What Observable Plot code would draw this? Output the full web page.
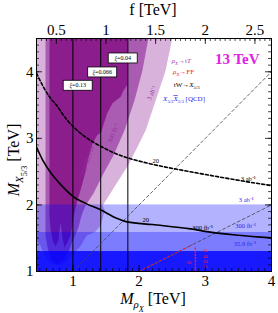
<!DOCTYPE html>
<html><head><meta charset="utf-8">
<script src="https://cdn.jsdelivr.net/npm/d3@7"></script>
<script src="https://cdn.jsdelivr.net/npm/@observablehq/plot@0.6"></script>
<style>html,body{margin:0;padding:0;background:#fff}svg{display:block}</style>
</head><body><div id="c"></div>
<script>
// ---------- data ----------
const xDomain = [0.45, 4];
const yDomain = [1, 4.5];
const xTicks = [1, 2, 3, 4];
const yTicks = [1, 2, 3, 4];
const fTicks = [0.5, 1, 1.5, 2, 2.5];
const fScale = 1.5; // M_rho = 1.5 f (top axis)

// exclusion regions (M_rho, M_X5/3)
const lightRegion = [[0.40,4.6],[2.53,4.6],[2.50,4.5],[2.40,4.02],[2.25,3.57],[2.10,3.12],[1.95,2.82],[1.83,2.59],[1.64,2.29],[1.45,1.99],[1.48,1.92],[1.42,1.69],[1.33,1.59],[1.21,1.54],[1.12,1.39],[0.99,1.24],[0.90,1.14],[0.78,1.09],[0.66,1.12],[0.57,1.24],[0.51,1.39],[0.45,1.47],[0.40,1.50]];
const mediumRegion = [[0.586,4.6],[2.16,4.6],[2.14,4.5],[2.05,4.02],[1.93,3.57],[1.78,3.12],[1.61,2.74],[1.46,2.47],[1.31,2.17],[1.19,1.99],[1.13,1.84],[1.08,1.65],[1.00,1.47],[0.93,1.29],[0.85,1.16],[0.75,1.11],[0.66,1.20],[0.62,1.35],[0.586,1.54]];
const darkRegion = [[0.646,4.6],[1.82,4.6],[1.82,3.80],[1.764,3.72],[1.72,3.62],[1.60,3.53],[1.52,3.38],[1.46,3.20],[1.43,3.09],[1.37,3.05],[1.30,2.93],[1.235,2.71],[1.175,2.44],[1.115,2.22],[1.07,2.07],[1.024,1.89],[0.994,1.69],[0.964,1.54],[0.918,1.44],[0.873,1.36],[0.843,1.50],[0.813,1.74],[0.782,1.47],[0.737,1.38],[0.692,1.47],[0.661,1.65],[0.646,1.84]];

// QCD pair-production bands: upper edge and opacity layer
const qcdBandTop = [2.0, 1.586, 1.30];
const qcdBandOpacity = [0.3, 0.3, 0.8];

// compositeness xi lines
const xiValues = ["0.13", "0.066", "0.04"];
const xiMass = [1.0, 1.42, 1.83];
const xiLabelX = [1.08, 1.45, 1.76];
const xiLabelY = [3.79, 3.99, 4.20];

// kinematic lines
const lineMeqM = [[1, 1], [4, 4]];
const lineHalf = [[2, 1], [4, 2]];
const redDashed = [[2.0, 1.0], [2.80, 1.40]];
const redDotted = [[2.85, 1.0], [2.85, 1.38]];

// contour curves
const dashedCurve = [[0.45,3.98],[0.55,3.78],[0.65,3.62],[0.75,3.50],[0.90,3.29],[1.10,3.09],[1.28,2.96],[1.46,2.86],[1.65,2.77],[1.85,2.70],[2.16,2.62],[2.60,2.53],[2.93,2.47],[3.50,2.37],[4.0,2.29]];
const solidCurve = [[0.45,2.87],[0.55,2.66],[0.66,2.49],[0.83,2.29],[1.0,2.13],[1.2,2.02],[1.41,1.93],[1.66,1.80],[1.82,1.745],[2.2,1.705],[2.78,1.64],[3.05,1.595],[3.5,1.545],[4.0,1.505]];

// text annotations
const blackLabels = [["20",2.25,2.655],["3 ab⁻¹",3.65,2.385],["20",2.10,1.775],["300 fb⁻¹",2.96,1.655]];
const blueLabels = [["3 ab⁻¹",3.62,2.08],["300 fb⁻¹",3.61,1.69],["35.9 fb⁻¹",3.60,1.42]];
const purpleLabels = [["3 ab⁻¹",2.19,3.68,-68],["300 fb⁻¹",1.61,3.08,-68],["72.3+36.3 fb⁻¹",1.22,2.67,-71]];
const redLabels = [["20",2.75,1.135],["30",3.00,1.31],["40",3.00,1.23],["50",3.00,1.15],["75",3.00,1.07]];

// ---------- chart ----------
const serif = "'Liberation Serif','Times New Roman',serif";
const xMinor = d3.range(0.5, 4.001, 0.1);
const yMinor = d3.range(1.1, 4.5, 0.1);
const fMinor = d3.range(0.35, 2.67, 0.05).map(f => f * fScale).filter(m => m > 0.45 && m < 4);
const fMajor = fTicks.map(f => f * fScale);

const poly = (data, fill) => Plot.line(data, {x: d => d[0], y: d => d[1], fill, stroke: "none", clip: true});
const seg = (data, o) => Plot.line(data, {x: d => d[0], y: d => d[1], clip: true, ...o});

const chart = Plot.plot({
  width: 278, height: 313,
  marginLeft: 36, marginRight: 7, marginTop: 38, marginBottom: 42,
  x: {domain: xDomain},
  y: {domain: yDomain},
  style: {fontFamily: serif, fontSize: "15px", color: "black", background: "white"},
  marks: [
    poly(lightRegion, "#d8b2db"),
    poly(mediumRegion, "#a95cb1"),
    poly(darkRegion, "#8c1d8d"),
    Plot.rect(qcdBandTop.map((t, i) => ({t, o: qcdBandOpacity[i]})), {y1: d => 1, y2: d => d.t, fill: "#0000ff", fillOpacity: d => d.o}),
    Plot.ruleX(xiMass, {stroke: "black", strokeWidth: 1}),
    seg(lineMeqM, {stroke: "#444", strokeWidth: 0.8, strokeDasharray: "3,2.5"}),
    seg(lineHalf, {stroke: "#444", strokeWidth: 0.8, strokeDasharray: "3,2.5"}),
    seg(redDashed, {stroke: "#ff1a1a", strokeWidth: 1, strokeDasharray: "2.5,2"}),
    seg(redDotted, {stroke: "#ff1a1a", strokeWidth: 1.4, strokeDasharray: "1.2,2"}),
    seg(solidCurve, {stroke: "black", strokeWidth: 1.6, curve: "monotone-x"}),
    seg(dashedCurve, {stroke: "black", strokeWidth: 1.6, strokeDasharray: "3,2.2", curve: "monotone-x"}),
    // inward ticks
    Plot.ruleX(xMinor, {x: d => d, y1: d => 1, y2: d => 1.045, stroke: "black", strokeWidth: 0.7}),
    Plot.ruleX(xTicks, {x: d => d, y1: d => 1, y2: d => 1.09, stroke: "black", strokeWidth: 0.8}),
    Plot.ruleX(fMinor, {x: d => d, y1: d => 4.5, y2: d => 4.455, stroke: "black", strokeWidth: 0.7}),
    Plot.ruleX(fMajor, {x: d => d, y1: d => 4.5, y2: d => 4.41, stroke: "black", strokeWidth: 0.8}),
    Plot.ruleY(yMinor, {y: d => d, x1: d => 0.45, x2: d => 0.495, stroke: "black", strokeWidth: 0.7}),
    Plot.ruleY(yTicks, {y: d => d, x1: d => 0.45, x2: d => 0.54, stroke: "black", strokeWidth: 0.8}),
    Plot.ruleY(yMinor, {y: d => d, x1: d => 4, x2: d => 3.955, stroke: "black", strokeWidth: 0.7}),
    Plot.ruleY(yTicks, {y: d => d, x1: d => 4, x2: d => 3.91, stroke: "black", strokeWidth: 0.8}),
    Plot.frame({stroke: "black", strokeWidth: 1}),
    Plot.axisX(xTicks, {anchor: "bottom", tickSize: 0, tickPadding: 4, fontSize: 15, label: null, tickFormat: d => String(d)}),
    Plot.axisX(fMajor, {anchor: "top", tickSize: 0, tickPadding: 4, fontSize: 15, label: null, tickFormat: d => String(+(d / fScale).toFixed(2))}),
    Plot.axisY(yTicks, {anchor: "left", tickSize: 0, tickPadding: 3, fontSize: 15, label: null, tickFormat: d => String(d)}),
    Plot.text(blackLabels, {x: d => d[1], y: d => d[2], text: d => d[0], fontSize: 6.5, fill: "black"}),
    Plot.text(blueLabels, {x: d => d[1], y: d => d[2], text: d => d[0], fontSize: 6.5, fill: "#2a2ae8"}),
    Plot.text(purpleLabels, {x: d => d[1], y: d => d[2], text: d => d[0], rotate: d => d[3], fontSize: 6.5, fill: "#9a2f9e"}),
    Plot.text(redLabels, {x: d => d[1], y: d => d[2], text: d => d[0], fontSize: 4.5, fill: "#ff1a1a"})
  ]
});
document.getElementById("c").appendChild(chart);

// ---------- rich text (sub/superscripts) ----------
const sx = chart.scale("x"), sy = chart.scale("y");
const svg = d3.select(chart);
const g = svg.append("g").attr("font-family", serif);

function rich(x, y, parts, {anchor = "start", rotate = 0, fill = "black", size = 7, weight = "normal"} = {}) {
  const t = g.append("text").attr("text-anchor", anchor).attr("fill", fill)
    .attr("font-size", size).attr("font-weight", weight)
    .attr("transform", `translate(${x},${y}) rotate(${rotate})`);
  let cur = 0;
  for (const p of parts) {
    const lv = p.s || 0;
    const off = lv === 1 ? 0.28 * size : lv === 2 ? 0.48 * size : lv === -1 ? -0.38 * size : 0;
    const fs = lv === 0 ? size : lv === 2 ? size * 0.52 : size * 0.68;
    const ts = t.append("tspan").text(p.t).attr("font-size", fs).attr("dy", off - cur);
    if (p.i) ts.attr("font-style", "italic");
    if (p.o) ts.attr("text-decoration", "overline");
    cur = off;
  }
  return t;
}

// axis titles
rich(153, 15, [{t: "f [TeV]"}], {anchor: "middle", size: 16});
rich(153, 304, [{t: "M", i: 1}, {t: "ρ", s: 1, i: 1}, {t: "X", s: 2, i: 1}, {t: " [TeV]"}], {anchor: "middle", size: 16});
rich(19, 160, [{t: "M", i: 1}, {t: "X", s: 1, i: 1}, {t: "5/3", s: 2}, {t: " [TeV]"}], {anchor: "middle", size: 16, rotate: -90});

// legend
const lx = v => sx.apply(v), ly = v => sy.apply(v) + 2.4;
rich(sx.apply(3.49), sy.apply(4.19) + 5, [{t: "13 TeV"}], {anchor: "middle", size: 15, weight: "bold", fill: "#e21ee2"});
rich(lx(2.50), ly(4.155), [{t: "ρ", i: 1}, {t: "X", s: 1, i: 1}, {t: "→t"}, {t: "T", i: 1}], {size: 7, fill: "#a23cb8"});
rich(lx(2.52), ly(3.99), [{t: "ρ", i: 1}, {t: "X", s: 1, i: 1}, {t: "→FF"}], {size: 7, fill: "#ff1a1a"});
rich(lx(2.53), ly(3.80), [{t: "tW→"}, {t: "X", i: 1}, {t: "5/3", s: 1}], {size: 7, fill: "black"});
rich(lx(2.37), ly(3.585), [{t: "X", i: 1}, {t: "5/3", s: 1}, {t: "X", s: 0, i: 1, o: 1}, {t: "5/3", s: 1}, {t: " [QCD]"}], {size: 7, fill: "#2a2ae8"});

// xi boxes
xiValues.forEach((v, i) => {
  const t = rich(sx.apply(xiLabelX[i]), sy.apply(xiLabelY[i]) + 2.1, [{t: "ξ", i: 1}, {t: "=" + v}], {anchor: "middle", size: 6});
  const b = t.node().getBBox();
  const cx = sx.apply(xiLabelX[i]), cy = sy.apply(xiLabelY[i]);
  g.insert("rect", () => t.node())
    .attr("x", cx - 14.5).attr("y", cy - 5).attr("width", 29).attr("height", 10)
    .attr("fill", "white").attr("stroke", "black").attr("stroke-width", 0.8);
});
</script>
</body></html>
